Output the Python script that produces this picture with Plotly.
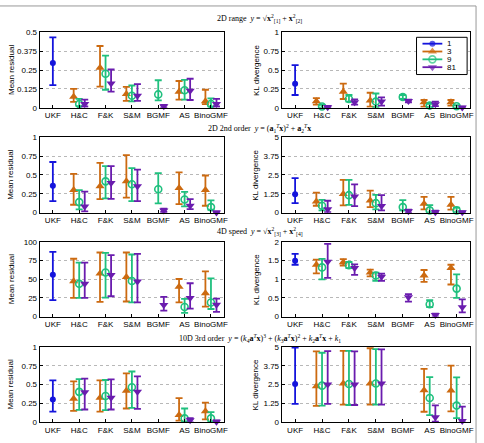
import plotly.graph_objects as go

categories = ["UKF", "H&C", "F&K", "S&M", "BGMF", "AS", "BinoGMF"]
series_names = ["1", "3", "9", "81"]
series_colors = ["#1414dc", "#cc6a10", "#1fc07e", "#6a1cae"]
series_symbols = ["circle", "triangle-up", "circle-open", "triangle-down"]
series_offsets = [0.0, -0.21, 0.0, 0.21]

# each entry: (mean, lower, upper); None = no result
range_res_s1 = [(0.298, 0.15, 0.467), None, None, None, None, None, None]
range_res_s3 = [None, (0.074, 0.039, 0.126), (0.265, 0.141, 0.41), (0.091, 0.046, 0.139), None, (0.107, 0.054, 0.178), (0.043, 0.024, 0.12)]
range_res_s9 = [None, (0.026, 0.011, 0.059), (0.226, 0.12, 0.346), (0.08, 0.043, 0.148), (0.089, 0.05, 0.183), (0.117, 0.054, 0.185), (0.026, 0.009, 0.063)]
range_res_s81 = [None, (0.026, 0.009, 0.054), (0.161, 0.107, 0.254), (0.08, 0.046, 0.157), (0.011, 0.002, 0.02), (0.113, 0.052, 0.193), (0.026, 0.009, 0.059)]

range_kl_s1 = [(0.32, 0.17, 0.565), None, None, None, None, None, None]
range_kl_s3 = [None, (0.087, 0.043, 0.13), (0.213, 0.117, 0.32), (0.096, 0.017, 0.2), None, (0.074, 0.017, 0.104), (0.074, 0.03, 0.104)]
range_kl_s9 = [None, (0.017, 0.004, 0.04), (0.117, 0.083, 0.17), (0.083, 0.009, 0.19), (0.143, 0.117, 0.17), (0.03, 0.009, 0.052), (0.022, 0.004, 0.035)]
range_kl_s81 = [None, (0.009, 0.0, 0.026), (0.074, 0.043, 0.113), (0.083, 0.03, 0.139), (0.091, 0.074, 0.109), (0.048, 0.022, 0.083), (0.004, 0.0, 0.017)]

second_res_s1 = [(0.358, 0.153, 0.672), None, None, None, None, None, None]
second_res_s3 = [None, (0.30, 0.105, 0.515), (0.35, 0.18, 0.66), (0.415, 0.2, 0.764), None, (0.328, 0.114, 0.533), (0.30, 0.092, 0.493)]
second_res_s9 = [None, (0.14, 0.044, 0.30), (0.415, 0.19, 0.616), (0.376, 0.153, 0.59), (0.31, 0.122, 0.524), (0.175, 0.083, 0.275), (0.074, 0.039, 0.162)]
second_res_s81 = [None, (0.083, 0.017, 0.28), (0.393, 0.183, 0.616), (0.35, 0.153, 0.572), (0.03, 0.009, 0.052), (0.092, 0.048, 0.179), (0.002, 0.0, 0.017)]

second_kl_s1 = [(1.22, 0.63, 2.29), None, None, None, None, None, None]
second_kl_s3 = [None, (0.74, 0.46, 1.33), (1.24, 0.48, 2.18), (0.81, 0.37, 1.46), None, (0.59, 0.22, 1.05), (0.52, 0.2, 1.05)]
second_kl_s9 = [None, (0.46, 0.15, 0.85), (1.16, 0.52, 2.18), (0.63, 0.22, 1.18), (0.37, 0.15, 0.83), (0.15, 0.02, 0.5), (0.15, 0.04, 0.33)]
second_kl_s81 = [None, (0.22, 0.04, 0.79), (1.07, 0.44, 1.88), (0.44, 0.15, 1.16), (0.09, 0.0, 0.2), (0.02, 0.0, 0.13), (0.02, 0.0, 0.09)]

speed_res_s1 = [(56, 22, 86.8), None, None, None, None, None, None]
speed_res_s3 = [None, (47.4, 25, 77.6), (57.9, 19.7, 86), (53, 20.2, 86), None, (39.9, 18.9, 50.4), (31.1, 13.2, 60.5)]
speed_res_s9 = [None, (43.9, 25, 72.4), (59.2, 25.4, 85.5), (47.8, 18.9, 83.3), None, (12.7, 4.8, 23.7), (18.9, 10.1, 51.3)]
speed_res_s81 = [None, (43.9, 25, 72.4), (55.7, 27.2, 82.5), (46.9, 18.9, 84.2), (15.4, 7.9, 26.3), (25, 10.5, 44.7), (15.8, 6.1, 24.1)]

speed_kl_s1 = [(1.5, 1.39, 1.68), None, None, None, None, None, None]
speed_kl_s3 = [None, (1.39, 1.16, 1.53), (1.46, 1.37, 1.54), (1.18, 1.08, 1.26), None, (1.10, 0.93, 1.25), (1.30, 0.86, 1.39)]
speed_kl_s9 = [None, (1.32, 1.0, 1.55), (1.38, 1.30, 1.47), (1.10, 0.96, 1.18), None, (0.33, 0.25, 0.44), (0.75, 0.5, 1.13)]
speed_kl_s81 = [None, (1.47, 1.04, 1.95), (1.30, 1.12, 1.40), (1.07, 0.96, 1.15), (0.52, 0.4, 0.6), (0.04, 0.0, 0.08), (0.25, 0.11, 0.46)]

third_res_s1 = [(0.304, 0.143, 0.556), None, None, None, None, None, None]
third_res_s3 = [None, (0.313, 0.152, 0.543), (0.326, 0.143, 0.556), (0.417, 0.183, 0.648), None, (0.096, 0.022, 0.322), (0.148, 0.039, 0.261)]
third_res_s9 = [None, (0.404, 0.165, 0.574), (0.348, 0.161, 0.561), (0.465, 0.191, 0.674), None, (0.052, 0.009, 0.183), (0.052, 0.009, 0.135)]
third_res_s81 = [None, (0.4, 0.17, 0.578), (0.326, 0.17, 0.57), (0.404, 0.178, 0.609), None, (0.026, 0.0, 0.057), (0.009, 0.0, 0.026)]

third_kl_s1 = [(2.54, 1.22, 4.96), None, None, None, None, None, None]
third_kl_s3 = [None, (2.39, 1.09, 4.7), (2.57, 1.17, 4.74), (2.57, 1.17, 4.91), None, (2.13, 0.7, 3.54), (2.11, 0.72, 3.76)]
third_kl_s9 = [None, (2.43, 1.11, 4.61), (2.54, 1.15, 4.74), (2.57, 1.17, 4.85), None, (1.61, 0.48, 3.0), (1.11, 0.28, 2.98)]
third_kl_s81 = [None, (2.5, 1.22, 4.72), (2.5, 1.15, 4.7), (2.57, 1.17, 4.83), None, (0.33, 0.04, 1.13), (0.09, 0.0, 1.04)]

ticks_res_small = [0, 0.125, 0.25, 0.375, 0.5]
ticks_unit = [0, 0.25, 0.5, 0.75, 1]
ticks_five = [0, 1.25, 2.5, 3.75, 5]
ticks_hundred = [0, 25, 50, 75, 100]
ticks_two = [0, 0.5, 1, 1.5, 2]

row_titles = [
    "2D range  <i>y</i> = √<b>x</b><sup>2</sup><sub>[1]</sub> + <b>x</b><sup>2</sup><sub>[2]</sub>",
    "2D 2nd order  <i>y</i> = (<b>a</b><sub>1</sub><sup><i>T</i></sup><b>x</b>)<sup>2</sup> + <b>a</b><sub>2</sub><sup><i>T</i></sup><b>x</b>",
    "4D speed  <i>y</i> = √<b>x</b><sup>2</sup><sub>[3]</sub> + <b>x</b><sup>2</sup><sub>[4]</sub>",
    "10D 3rd order  <i>y</i> = (<i>k</i><sub>4</sub><b>a</b><sup><i>T</i></sup><b>x</b>)<sup>3</sup> + (<i>k</i><sub>3</sub><b>a</b><sup><i>T</i></sup><b>x</b>)<sup>2</sup> + <i>k</i><sub>2</sub><b>a</b><sup><i>T</i></sup><b>x</b> + <i>k</i><sub>1</sub>",
]

panels = [
    ([range_res_s1, range_res_s3, range_res_s9, range_res_s81], ticks_res_small, "Mean residual"),
    ([range_kl_s1, range_kl_s3, range_kl_s9, range_kl_s81], ticks_unit, "KL divergence"),
    ([second_res_s1, second_res_s3, second_res_s9, second_res_s81], ticks_unit, "Mean residual"),
    ([second_kl_s1, second_kl_s3, second_kl_s9, second_kl_s81], ticks_five, "KL divergence"),
    ([speed_res_s1, speed_res_s3, speed_res_s9, speed_res_s81], ticks_hundred, "Mean residual"),
    ([speed_kl_s1, speed_kl_s3, speed_kl_s9, speed_kl_s81], ticks_two, "KL divergence"),
    ([third_res_s1, third_res_s3, third_res_s9, third_res_s81], ticks_unit, "Mean residual"),
    ([third_kl_s1, third_kl_s3, third_kl_s9, third_kl_s81], ticks_five, "KL divergence"),
]

W, H = 484, 443
FS = 8
col_dom = [(40 / W, 226 / W), (284 / W, 474 / W)]
row_px = [(29, 106), (136, 213), (243, 319), (350, 427)]
title_py = [15, 127, 232, 341]


def marker_style(s):
    col = series_colors[s]
    if s == 0:
        return dict(symbol="circle", size=6, color=col, line=dict(color=col, width=0))
    if s == 2:
        return dict(symbol="circle-open", size=7, color=col, line=dict(color=col, width=1.6))
    return dict(symbol=series_symbols[s], size=8, color=col, line=dict(color=col, width=0))


fig = go.Figure()
layout = dict(
    width=W, height=H, margin=dict(l=0, r=0, t=0, b=0),
    paper_bgcolor="white", plot_bgcolor="rgba(0,0,0,0)",
    font=dict(family="Liberation Sans, Arial", size=FS, color="black"),
    showlegend=False,
)

annotations = []
for i, (series, yt, ylab) in enumerate(panels):
    r, c = divmod(i, 2)
    idx = i + 1
    xa = "x" if idx == 1 else f"x{idx}"
    ya = "y" if idx == 1 else f"y{idx}"
    top, bot = row_px[r]
    ydom = (1 - bot / H, 1 - top / H)
    for s, data in enumerate(series):
        xs, ys, up, dn = [], [], [], []
        for k, t in enumerate(data):
            if t is None:
                continue
            m, lo, hi = t
            xs.append(k + 1 + series_offsets[s])
            ys.append(m)
            up.append(hi - m)
            dn.append(m - lo)
        if not xs:
            continue
        col = series_colors[s]
        fig.add_trace(go.Scatter(
            x=xs, y=ys, mode="markers", xaxis=xa, yaxis=ya, showlegend=False,
            cliponaxis=False, marker=marker_style(s),
            error_y=dict(type="data", symmetric=False, array=up, arrayminus=dn,
                         color=col, thickness=1.8, width=3.5),
        ))
    xkey = "xaxis" if idx == 1 else f"xaxis{idx}"
    ykey = "yaxis" if idx == 1 else f"yaxis{idx}"
    layout[xkey] = dict(domain=col_dom[c], anchor=ya, range=[0.5, 7.5],
                        tickmode="array", tickvals=list(range(1, 8)), ticktext=categories,
                        tickangle=0,
                        showline=True, mirror=True, linecolor="black", linewidth=1,
                        ticks="inside", ticklen=3, tickcolor="black", showgrid=False,
                        zeroline=False, tickfont=dict(size=FS))
    layout[ykey] = dict(domain=ydom, anchor=xa, range=[yt[0], yt[-1]],
                        tickmode="array", tickvals=yt, ticktext=[f"{v:g}" for v in yt],
                        showline=True, mirror=True, linecolor="black", linewidth=1,
                        ticks="inside", ticklen=3, tickcolor="black",
                        showgrid=True, gridcolor="#b8b8b8", griddash="dot", gridwidth=1,
                        zeroline=False, tickfont=dict(size=FS))
    xlab = 11 / W if c == 0 else 258 / W
    annotations.append(dict(text=ylab, x=xlab, y=(ydom[0] + ydom[1]) / 2,
                            xref="paper", yref="paper", showarrow=False, textangle=-90,
                            font=dict(size=FS), xanchor="center", yanchor="middle"))

for r, t in enumerate(row_titles):
    annotations.append(dict(text=t, x=262 / W, y=1 - title_py[r] / H, xref="paper", yref="paper",
                            showarrow=False, xanchor="center", yanchor="middle",
                            font=dict(family="Liberation Serif, Times New Roman", size=8)))

# manual legend on an overlay axis measured in figure pixels
leg_box = (420, 34, 471, 72)
leg_rows = [40.5, 48.5, 56.5, 64.5]
leg_line_x = [426, 436, 446]
layout["xaxis9"] = dict(domain=[0, 1], range=[0, W], visible=False, anchor="y9", fixedrange=True)
layout["yaxis9"] = dict(domain=[0, 1], range=[H, 0], visible=False, anchor="x9", fixedrange=True)
for s in range(4):
    ms = marker_style(s)
    ms["size"] = [0, ms["size"], 0]
    fig.add_trace(go.Scatter(
        x=leg_line_x, y=[leg_rows[s]] * 3, mode="lines+markers", xaxis="x9", yaxis="y9",
        showlegend=False, hoverinfo="skip", cliponaxis=False,
        line=dict(color=series_colors[s], width=1.8), marker=ms,
    ))
    annotations.append(dict(text=series_names[s], x=449, y=leg_rows[s], xref="x9", yref="y9",
                            showarrow=False, xanchor="left", yanchor="middle", font=dict(size=FS)))

layout["annotations"] = annotations
layout["shapes"] = [
    dict(type="rect", xref="paper", yref="paper", x0=-0.02, x1=480 / W,
         y0=-0.02, y1=1 - 2 / H, line=dict(color="#999999", width=1)),
    dict(type="rect", xref="x9", yref="y9", x0=leg_box[0], x1=leg_box[2], y0=leg_box[1],
         y1=leg_box[3], line=dict(color="black", width=1), fillcolor="white", layer="below"),
]
fig.update_layout(**layout)
fig.write_html("out.html")
